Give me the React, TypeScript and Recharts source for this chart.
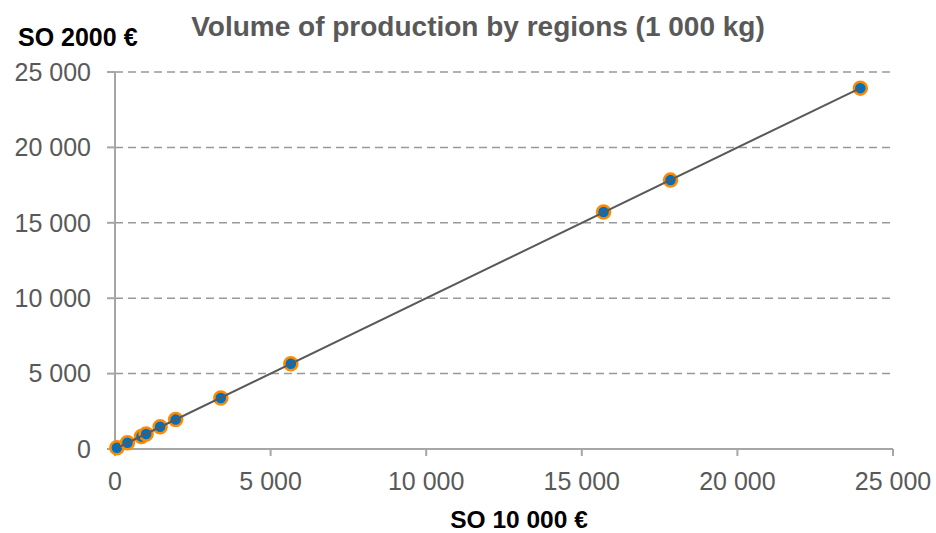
import React from "react";
import { ScatterChart, Scatter, XAxis, YAxis, CartesianGrid } from "recharts";

const xValues = [60, 400, 850, 1000, 1450, 1950, 3400, 5650, 15700, 17850, 23950];
const yValues = [80, 420, 830, 1000, 1470, 1950, 3380, 5650, 15720, 17830, 23930];
const axisTicks = [0, 5000, 10000, 15000, 20000, 25000];

const title = "Volume of production by regions (1 000 kg)";
const yTitle = "SO 2000 €";
const xTitle = "SO 10 000 €";

const points = xValues.map((x, i) => ({ x, y: yValues[i] }));

// linear trendline fitted to the points
const n = points.length;
const mx = xValues.reduce((a, b) => a + b, 0) / n;
const my = yValues.reduce((a, b) => a + b, 0) / n;
const slope =
  points.reduce((s, p) => s + (p.x - mx) * (p.y - my), 0) /
  points.reduce((s, p) => s + (p.x - mx) * (p.x - mx), 0);
const intercept = my - slope * mx;
const xMin = Math.min(...xValues);
const xMax = Math.max(...xValues);
const trend = [
  { x: xMin, y: intercept + slope * xMin },
  { x: xMax, y: intercept + slope * xMax },
];

const fmt = (v: number) => String(v).replace(/\B(?=(\d{3})+(?!\d))/g, " ");

const FONT = "'Liberation Sans', Arial, sans-serif";
const AXIS = "#A6A6A6";

const Marker = (props: any) => {
  const { cx, cy } = props;
  if (cx == null || cy == null) return <g />;
  return <circle cx={cx} cy={cy} r={6.5} fill="#0070C0" stroke="#FF8A00" strokeWidth={2.5} />;
};

export default function App() {
  return (
    <div style={{ position: "absolute", left: 0, top: 0, width: 936, height: 533, background: "#fff" }}>
      <ScatterChart
        width={936}
        height={533}
        margin={{ top: 72, right: 43, bottom: 0, left: 0 }}
        style={{ fontFamily: FONT }}
      >
        <CartesianGrid
          horizontal
          vertical={false}
          stroke="#999999"
          strokeWidth={1.5}
          strokeDasharray="8 5"
        />
        <XAxis
          type="number"
          dataKey="x"
          domain={[0, 25000]}
          ticks={axisTicks}
          tickFormatter={fmt}
          height={84}
          tickSize={7}
          tickMargin={16}
          interval={0}
          axisLine={{ stroke: AXIS, strokeWidth: 2 }}
          tickLine={{ stroke: AXIS, strokeWidth: 2 }}
          tick={{ fill: "#595959", fontSize: 25, fontFamily: FONT }}
        />
        <YAxis
          type="number"
          dataKey="y"
          domain={[0, 25000]}
          ticks={axisTicks}
          tickFormatter={fmt}
          width={115}
          tickSize={8}
          tickMargin={16}
          interval={0}
          axisLine={{ stroke: AXIS, strokeWidth: 2 }}
          tickLine={{ stroke: AXIS, strokeWidth: 2 }}
          tick={{ fill: "#595959", fontSize: 25, fontFamily: FONT }}
        />
        <Scatter data={points} shape={Marker} isAnimationActive={false} />
        <Scatter
          data={trend}
          line={{ stroke: "#595959", strokeWidth: 2 }}
          shape={() => <g />}
          isAnimationActive={false}
        />
      </ScatterChart>
      <svg
        width={936}
        height={533}
        style={{ position: "absolute", left: 0, top: 0, pointerEvents: "none" }}
      >
        <text x={478} y={36} textAnchor="middle" fill="#595959" fontSize={28} fontWeight="bold" fontFamily={FONT}>
          {title}
        </text>
        <text x={18} y={46} textAnchor="start" fill="#000000" fontSize={25} fontWeight="bold" fontFamily={FONT}>
          {yTitle}
        </text>
        <text x={519} y={528} textAnchor="middle" fill="#000000" fontSize={24.5} fontWeight="bold" fontFamily={FONT}>
          {xTitle}
        </text>
      </svg>
    </div>
  );
}
